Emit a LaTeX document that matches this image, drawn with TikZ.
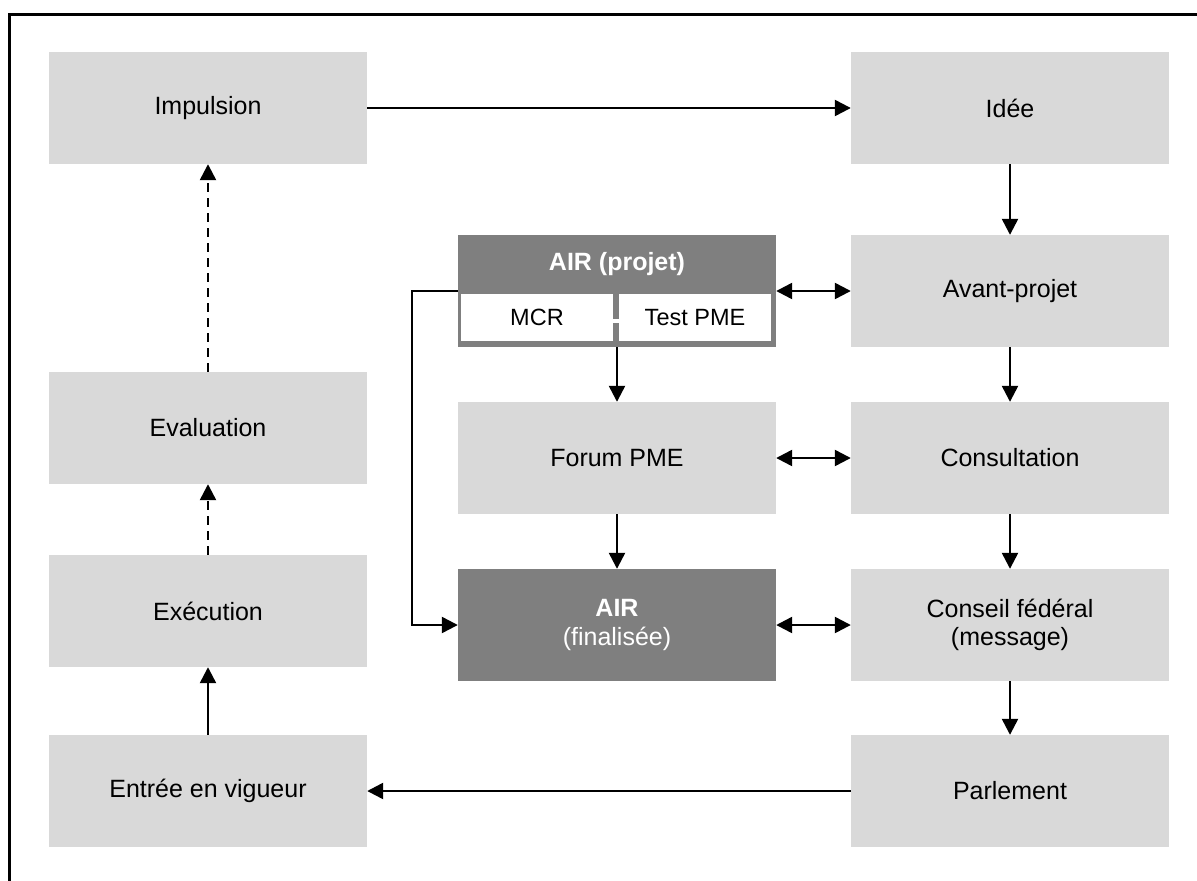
\documentclass[tikz,border=0pt]{standalone}
\usepackage{fontspec}
\setmainfont{Liberation Sans}
\usetikzlibrary{arrows.meta}
\definecolor{lightbox}{HTML}{D9D9D9}
\definecolor{darkbox}{HTML}{7F7F7F}
\begin{document}
\begin{tikzpicture}[x=1pt,y=-1pt,
  box/.style={fill=lightbox,draw=none,minimum width=318pt,minimum height=112pt,inner sep=0pt,
    align=center,font=\fontsize{25}{28.5}\selectfont},
  darkfill/.style={box,fill=darkbox,text=white},
  sub/.style={fill=white,draw=none,minimum width=152pt,minimum height=47pt,inner sep=0pt,
    font=\fontsize{23.5}{28}\selectfont},
  conn/.style={line width=2.4pt,-{Triangle[length=16pt,width=16pt]}},
  dconn/.style={line width=2.4pt,{Triangle[length=16pt,width=16pt]}-{Triangle[length=16pt,width=16pt]}},
  dashconn/.style={conn,dash pattern=on 9pt off 6pt}
]
\useasboundingbox (0,0) rectangle (1197,881);
% frame (only top and left visible)
\draw[line width=2.5pt] (1197,14.5) -- (9.7,14.5) -- (9.7,881);

% left column
\node[box] (imp) at (208,108) {Impulsion};
\node[box] (eval) at (208,428) {Evaluation};
\node[box] (exec) at (208,611) {Exécution};
\node[box] (entree) at (208,791) {Entrée en vigueur};
% right column
\node[box] (idee) at (1010,108) {Idée};
\node[box] (avant) at (1010,291) {Avant-projet};
\node[box] (consult) at (1010,458) {Consultation};
\node[box] (conseil) at (1010,625) {Conseil fédéral\\(message)};
\node[box] (parl) at (1010,791) {Parlement};
% middle column
\node[darkfill] (airp) at (617,291) {};
\node[text=white,font=\fontsize{25}{28}\selectfont\bfseries] (airpt) at (617,264.5) {AIR (projet)};
\node[sub] (mcr) at (537,317.5) {MCR};
\node[sub] (test) at (695,317.5) {Test PME};
\fill[white] (612,318.5) rectangle (620,322.5);
\node[box] (forum) at (617,458) {Forum PME};
\node[darkfill] (airf) at (617,625) {\textbf{AIR}\\(finalisée)};

% connectors
\draw[conn] (imp.east) -- (idee.west);
\draw[conn] (idee.south) -- (avant.north);
\draw[conn] (avant.south) -- (consult.north);
\draw[conn] (consult.south) -- (conseil.north);
\draw[conn] (conseil.south) -- (parl.north);
\draw[conn] (parl.west) -- (entree.east);
\draw[conn] (entree.north) -- (exec.south);
\draw[dashconn] (exec.north) -- (eval.south);
\draw[dashconn] (eval.north) -- (imp.south);
\draw[dconn] (airp.east) -- (avant.west);
\draw[dconn] (forum.east) -- (consult.west);
\draw[dconn] (airf.east) -- (conseil.west);
\draw[conn] (airp.south) -- (forum.north);
\draw[conn] (forum.south) -- (airf.north);
\coordinate (bkt) at (412,291);
\draw[conn] (airp.west) -- (bkt) |- (airf.west);
\end{tikzpicture}
\end{document}
